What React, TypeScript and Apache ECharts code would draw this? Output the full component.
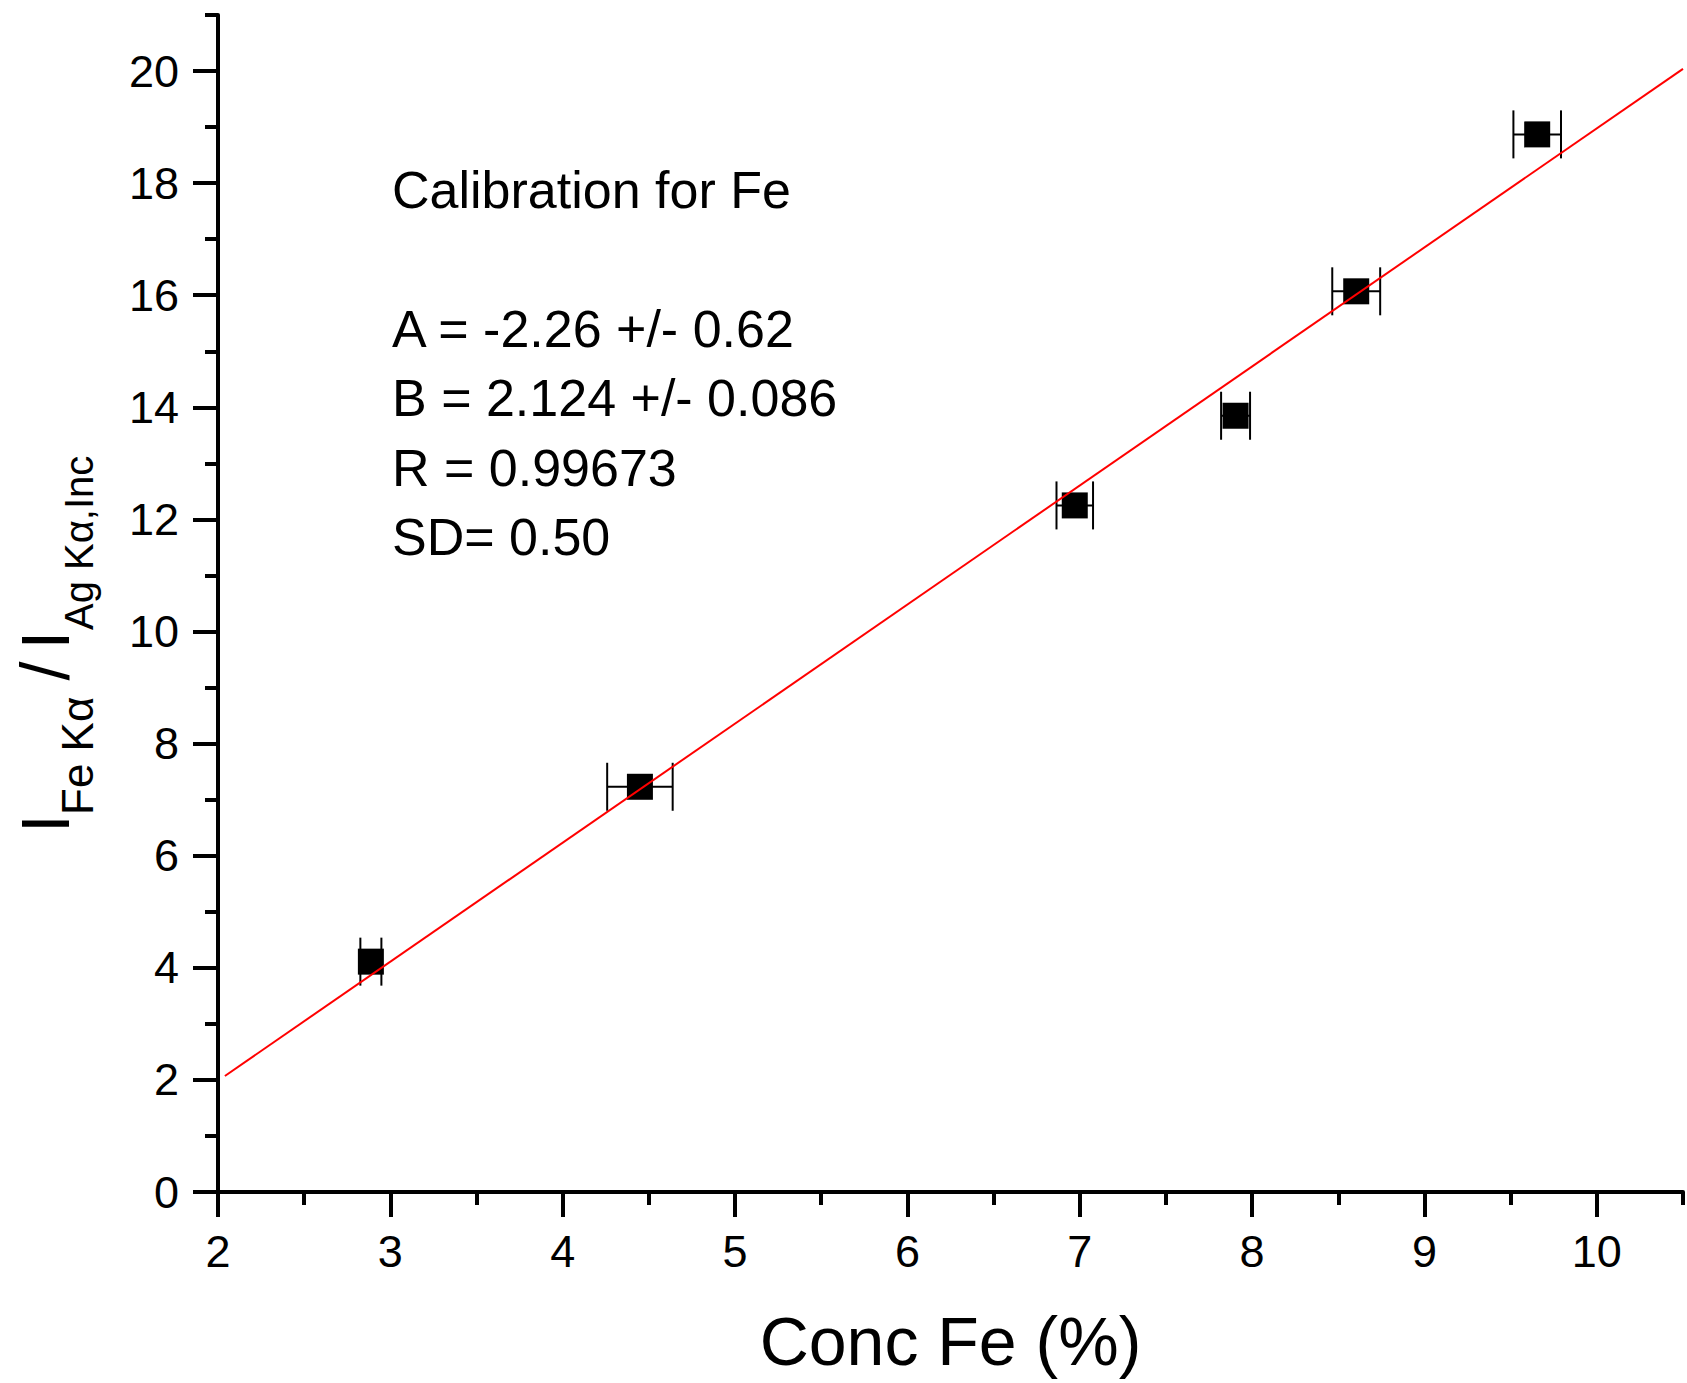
import React, { useEffect, useRef } from 'react';
import * as echarts from 'echarts';

// ---- Data ----
const concFe = [2.887, 4.448, 6.971, 7.904, 8.604, 9.654];
const intensityRatio = [4.11, 7.23, 12.25, 13.85, 16.07, 18.87];
const concFeErr = [0.061, 0.19, 0.106, 0.084, 0.139, 0.138];
const fitLineX = [2.04, 10.5];
const fitLineY = [2.07, 20.04];

const xMajorTicks = [2, 3, 4, 5, 6, 7, 8, 9, 10];
const xMinorTicks = [2.5, 3.5, 4.5, 5.5, 6.5, 7.5, 8.5, 9.5, 10.5];
const yMajorTicks = [0, 2, 4, 6, 8, 10, 12, 14, 16, 18, 20];
const yMinorTicks = [1, 3, 5, 7, 9, 11, 13, 15, 17, 19, 21];

const xTitle = 'Conc Fe (%)';
const annotationLines = [
  'Calibration for Fe',
  '',
  'A = -2.26 +/- 0.62',
  'B = 2.124 +/- 0.086',
  'R = 0.99673',
  'SD= 0.50',
];

const FONT = '"Liberation Sans", Arial, Helvetica, sans-serif';

export default function App() {
  const ref = useRef<HTMLDivElement>(null);

  useEffect(() => {
    document.body.style.margin = '0';
    if (!ref.current) return;
    const chart = echarts.init(ref.current, null, { renderer: 'svg' });

    const errData = concFe.map((x, i) => [x, intensityRatio[i], concFeErr[i]]);
    const pointData = concFe.map((x, i) => [x, intensityRatio[i]]);
    const fitData = fitLineX.map((x, i) => [x, fitLineY[i]]);

    const black = '#000000';

    const option: any = {
      animation: false,
      backgroundColor: '#ffffff',
      grid: { left: 218, right: 4, top: 15, bottom: 191, containLabel: false },
      xAxis: [
        {
          type: 'value',
          min: 2,
          max: 10.5,
          interval: 1,
          position: 'bottom',
          axisLine: { show: true, onZero: false, lineStyle: { color: black, width: 4 } },
          axisTick: {
            show: true,
            inside: false,
            length: 25,
            customValues: xMajorTicks,
            lineStyle: { color: black, width: 4 },
          },
          minorTick: { show: false },
          splitLine: { show: false },
          axisLabel: {
            customValues: xMajorTicks,
            margin: 37,
            fontSize: 45,
            color: black,
            fontFamily: FONT,
          },
          name: xTitle,
          nameLocation: 'middle',
          nameGap: 115,
          nameTextStyle: { fontSize: 68, color: black, fontFamily: FONT },
        },
        {
          type: 'value',
          min: 2,
          max: 10.5,
          interval: 1,
          position: 'bottom',
          axisLine: { show: false, onZero: false },
          axisTick: {
            show: true,
            inside: false,
            length: 13,
            customValues: xMinorTicks,
            lineStyle: { color: black, width: 4 },
          },
          minorTick: { show: false },
          splitLine: { show: false },
          axisLabel: { show: false },
        },
      ],
      yAxis: [
        {
          type: 'value',
          min: 0,
          max: 21,
          interval: 2,
          position: 'left',
          axisLine: { show: true, onZero: false, lineStyle: { color: black, width: 4 } },
          axisTick: {
            show: true,
            inside: false,
            length: 25,
            customValues: yMajorTicks,
            lineStyle: { color: black, width: 4 },
          },
          minorTick: { show: false },
          splitLine: { show: false },
          axisLabel: {
            customValues: yMajorTicks,
            margin: 39,
            fontSize: 45,
            color: black,
            fontFamily: FONT,
          },
        },
        {
          type: 'value',
          min: 0,
          max: 21,
          interval: 2,
          position: 'left',
          axisLine: { show: false, onZero: false },
          axisTick: {
            show: true,
            inside: false,
            length: 13,
            customValues: yMinorTicks,
            lineStyle: { color: black, width: 4 },
          },
          minorTick: { show: false },
          splitLine: { show: false },
          axisLabel: { show: false },
        },
      ],
      series: [
        {
          type: 'custom',
          name: 'x error',
          xAxisIndex: 0,
          yAxisIndex: 0,
          z: 1,
          clip: false,
          encode: { x: 0, y: 1 },
          data: errData,
          renderItem: (params: any, api: any) => {
            const x = api.value(0);
            const y = api.value(1);
            const e = api.value(2);
            const p1 = api.coord([x - e, y]);
            const p2 = api.coord([x + e, y]);
            const cap = 24;
            const style = { stroke: black, lineWidth: 2 };
            return {
              type: 'group',
              children: [
                { type: 'line', shape: { x1: p1[0], y1: p1[1], x2: p2[0], y2: p2[1] }, style },
                { type: 'line', shape: { x1: p1[0], y1: p1[1] - cap, x2: p1[0], y2: p1[1] + cap }, style },
                { type: 'line', shape: { x1: p2[0], y1: p2[1] - cap, x2: p2[0], y2: p2[1] + cap }, style },
              ],
            };
          },
        },
        {
          type: 'scatter',
          name: 'data',
          xAxisIndex: 0,
          yAxisIndex: 0,
          z: 2,
          symbol: 'rect',
          symbolSize: 26,
          itemStyle: { color: black, opacity: 1 },
          data: pointData,
        },
        {
          type: 'line',
          name: 'fit',
          xAxisIndex: 0,
          yAxisIndex: 0,
          z: 3,
          showSymbol: false,
          symbol: 'none',
          lineStyle: { color: '#ff0000', width: 2 },
          data: fitData,
        },
      ],
      graphic: [
        {
          type: 'text',
          x: 392,
          y: 155,
          style: {
            text: annotationLines.join('\n'),
            fontSize: 52,
            fontFamily: FONT,
            lineHeight: 69.5,
            fill: black,
            align: 'left',
            verticalAlign: 'top',
          },
        },
        {
          type: 'text',
          x: 44.7,
          y: 833,
          rotation: Math.PI / 2,
          style: { text: 'I', fontSize: 68, lineHeight: 68, fontFamily: FONT, fill: black, align: 'left', verticalAlign: 'middle' },
        },
        {
          type: 'text',
          x: 77.5,
          y: 815,
          rotation: Math.PI / 2,
          style: { text: 'Fe Kα', fontSize: 44, lineHeight: 44, fontFamily: FONT, fill: black, align: 'left', verticalAlign: 'middle' },
        },
        {
          type: 'text',
          x: 44.7,
          y: 671,
          rotation: Math.PI / 2,
          style: { text: '/', fontSize: 68, lineHeight: 68, fontFamily: FONT, fill: black, align: 'center', verticalAlign: 'middle' },
        },
        {
          type: 'text',
          x: 44.7,
          y: 640,
          rotation: Math.PI / 2,
          style: { text: 'I', fontSize: 68, lineHeight: 68, fontFamily: FONT, fill: black, align: 'center', verticalAlign: 'middle' },
        },
        {
          type: 'text',
          x: 78.5,
          y: 630,
          rotation: Math.PI / 2,
          style: { text: 'Ag Kα,Inc', fontSize: 40, lineHeight: 40, fontFamily: FONT, fill: black, align: 'left', verticalAlign: 'middle' },
        },
      ],
    };

    chart.setOption(option);
    return () => {
      chart.dispose();
    };
  }, []);

  return <div ref={ref} style={{ width: 1687, height: 1383 }} />;
}
